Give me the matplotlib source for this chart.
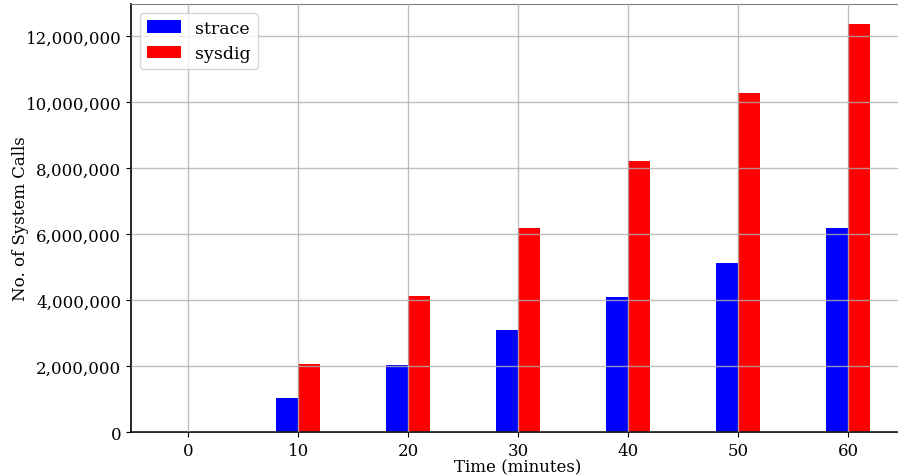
import numpy as np
import matplotlib.pyplot as plt
from matplotlib.ticker import FuncFormatter

plt.rcParams['font.family'] = 'DejaVu Serif'

# syscall counts over time
minutes = [0, 10, 20, 30, 40, 50, 60]
strace = [0, 1030000, 2040000, 3090000, 4100000, 5120000, 6180000]
sysdig = [0, 2060000, 4110000, 6180000, 8220000, 10270000, 12350000]

fig = plt.figure(figsize=(8.98, 4.77), dpi=100)
ax = fig.add_axes([0.1459, 0.0922, 0.8621, 0.8973])

w = 2
ax.bar(minutes, strace, width=-w, align='edge', color='blue', label='strace')
ax.bar(minutes, sysdig, width=w, align='edge', color='red', label='sysdig')

ax.set_xticks(minutes)
ax.yaxis.set_major_formatter(FuncFormatter(lambda v, p: '{:,.0f}'.format(v)))
ax.tick_params(labelsize=12)
ax.tick_params(axis='x', pad=4)
ax.grid(True, color='#b0b0b0', alpha=0.8, linewidth=1)
ax.set_axisbelow(False)

ax.set_xlabel('Time (minutes)', fontsize=12, labelpad=-0.5)
ax.set_ylabel('No. of System Calls', fontsize=12, labelpad=-2.5)
ax.legend(loc='upper left', fontsize=12.5)

ax.spines['top'].set_color('#808080')
ax.spines['left'].set_linewidth(1.2)
ax.spines['bottom'].set_linewidth(1.2)

fig.savefig('out.png', dpi=100)
